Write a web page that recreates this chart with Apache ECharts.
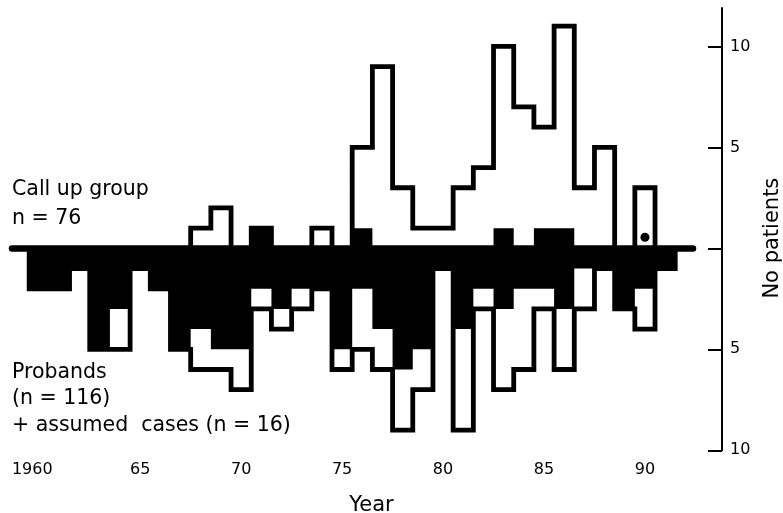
<!DOCTYPE html>
<html>
<head>
<meta charset="utf-8">
<script src="https://cdn.jsdelivr.net/npm/echarts@6/dist/echarts.min.js"></script>
<style>
html,body{margin:0;padding:0;background:#fff;}
#chart{width:783px;height:513px;}
</style>
</head>
<body>
<div id="chart"></div>
<script>
// ---- data ----
const years = [1960,1961,1962,1963,1964,1965,1966,1967,1968,1969,1970,1971,1972,1973,1974,1975,
               1976,1977,1978,1979,1980,1981,1982,1983,1984,1985,1986,1987,1988,1989,1990,1991];
// call up group (outline, above axis)
const callUp      = [0,0,0,0,0,0,0,0,1,2,0,1,0,0,1,0,5,9,3,1,1,3,4,10,7,6,11,3,5,0,3,0];
// solid part above the axis
const callUpSolid = [0,0,0,0,0,0,0,0,0,0,0,1,0,0,0,0,1,0,0,0,0,0,0,1,0,1,1,0,0,0,0,0];
// probands (solid, below axis)
const probands    = [2,2,1,5,3,1,2,5,4,5,5,2,3,2,2,5,2,4,6,5,1,4,2,3,2,2,3,1,1,3,2,1];
// probands + assumed cases (outline, below axis)
const withAssumed = [2,2,1,5,5,1,2,5,6,6,7,3,4,3,2,6,5,6,9,7,1,9,3,7,6,3,6,3,1,3,4,1];
// marker dot
const dotPoint = [1990, 0.55];
// tick labels
const xTickYears  = [1960,1965,1970,1975,1980,1985,1990];
const xTickLabels = ['1960','65','70','75','80','85','90'];
const yTickValues = [-10,-5,0,5,10];
const yLabelValues = [-10,-5,5,10];

// ---- build step data (bin from year-0.5 to year+0.5) ----
function stepData(vals, sign){
  const d = [[years[0]-0.5, 0]];
  years.forEach((y,i)=>d.push([y-0.5, sign*vals[i]]));
  d.push([years[years.length-1]+0.5, 0]);
  return d;
}

const FONT = 'DejaVu Sans';
const chart = echarts.init(document.getElementById('chart'), null, {renderer:'canvas'});
const lineBase = {type:'line', step:'end', symbol:'none', silent:true, animation:false};

chart.setOption({
  animation:false,
  backgroundColor:'#fff',
  grid:{left:12, right:90, top:8, bottom:62.7, containLabel:false, outerBoundsMode:'none'},
  xAxis:[
    {type:'value', min:1958.65, max:1992.38,
     axisLine:{show:true, onZero:true, lineStyle:{color:'#000', width:6.5, cap:'round'}},
     axisTick:{show:false}, axisLabel:{show:false}, splitLine:{show:false}},
    {type:'value', min:1958.65, max:1992.38, position:'bottom',
     axisLine:{show:false, onZero:false}, axisTick:{show:false}, splitLine:{show:false},
     axisLabel:{show:true, customValues:xTickYears, color:'#000', fontFamily:FONT, fontSize:16, margin:12,
       formatter:function(v){
         const i = xTickYears.indexOf(v);
         const t = i>=0 ? xTickLabels[i] : '';
         return i===0 ? '{f|'+t+'}' : t;
       },
       rich:{f:{fontFamily:FONT, fontSize:16, color:'#000', padding:[0,14,0,0]}}},
     name:'Year', nameLocation:'middle', nameGap:45,
     nameTextStyle:{color:'#000', fontFamily:FONT, fontSize:21, padding:[0,0,0,38]}}
  ],
  yAxis:{
    type:'value', position:'right', offset:29, min:-10, max:11.9,
    axisLine:{show:true, onZero:false, lineStyle:{color:'#000', width:2}},
    axisTick:{show:true, inside:true, length:14, customValues:yTickValues, lineStyle:{color:'#000', width:2}},
    axisLabel:{show:true, customValues:yLabelValues, margin:8, color:'#000', fontFamily:FONT, fontSize:16,
      formatter:function(v){return String(Math.abs(v));}},
    splitLine:{show:false},
    name:'No patients', nameLocation:'middle', nameRotate:90, nameGap:40,
    nameTextStyle:{color:'#000', fontFamily:FONT, fontSize:21, padding:[0,18,0,0]}
  },
  series:[
    Object.assign({}, lineBase, {name:'Probands + assumed', data:stepData(withAssumed,-1), z:2,
      lineStyle:{color:'#000', width:4.8, join:'miter', cap:'square'}}),
    Object.assign({}, lineBase, {name:'Probands', data:stepData(probands,-1), z:3,
      lineStyle:{width:0, color:'#000'}, areaStyle:{color:'#000', opacity:1}}),
    Object.assign({}, lineBase, {name:'Call up group', data:stepData(callUp,1), z:2,
      lineStyle:{color:'#000', width:4.8, join:'miter', cap:'square'}}),
    Object.assign({}, lineBase, {name:'Call up solid', data:stepData(callUpSolid,1), z:3,
      lineStyle:{width:0, color:'#000'}, areaStyle:{color:'#000', opacity:1}}),
    {type:'scatter', data:[dotPoint], symbol:'circle', symbolSize:9, z:4, silent:true,
      itemStyle:{color:'#000', opacity:1}}
  ],
  graphic:[
    {type:'text', x:12, y:190, style:{text:'Call up group', fontFamily:FONT, fontSize:20.5, fill:'#000', align:'left', verticalAlign:'middle'}},
    {type:'text', x:12, y:219, style:{text:'n = 76', fontFamily:FONT, fontSize:20.5, fill:'#000', align:'left', verticalAlign:'middle'}},
    {type:'text', x:12, y:373, style:{text:'Probands', fontFamily:FONT, fontSize:20.5, fill:'#000', align:'left', verticalAlign:'middle'}},
    {type:'text', x:12, y:399, style:{text:'(n = 116)', fontFamily:FONT, fontSize:20.5, fill:'#000', align:'left', verticalAlign:'middle'}},
    {type:'text', x:12, y:426, style:{text:'+ assumed  cases (n = 16)', fontFamily:FONT, fontSize:20.5, fill:'#000', align:'left', verticalAlign:'middle'}}
  ]
});
</script>
</body>
</html>
